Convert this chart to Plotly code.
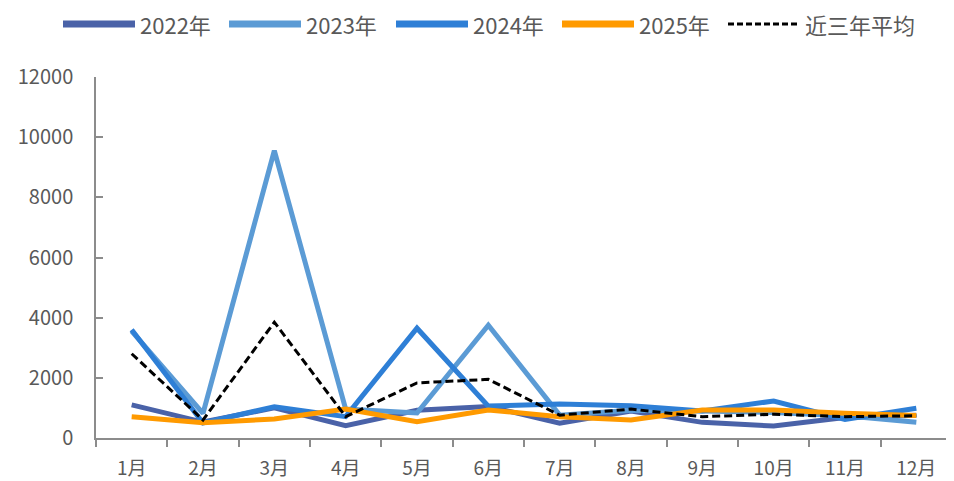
import plotly.graph_objects as go

months = ["1月", "2月", "3月", "4月", "5月", "6月", "7月", "8月", "9月", "10月", "11月", "12月"]
y2022 = [1100, 530, 1000, 410, 920, 1050, 490, 900, 520, 400, 680, 760]
y2023 = [3550, 820, 9550, 960, 830, 3750, 760, 920, 900, 850, 740, 520]
y2024 = [3600, 500, 1040, 710, 3650, 1060, 1130, 1070, 900, 1230, 620, 990]
y2025 = [710, 510, 630, 960, 540, 930, 710, 600, 930, 930, 820, 750]
avg3 = [2800, 600, 3850, 710, 1830, 1950, 760, 960, 710, 790, 710, 740]
yticks = [0, 2000, 4000, 6000, 8000, 10000, 12000]

series_names = ["2022年", "2023年", "2024年", "2025年"]
series_vals = [y2022, y2023, y2024, y2025]
series_colors = ["#4A62A8", "#5B9BD5", "#2E7FD6", "#FF9A00"]
avg_name = "近三年平均"

FONT = "Noto Sans CJK SC, sans-serif"
TXT = "#595959"
AX = "#8C8C8C"

# page has an 8px body margin; figure sized to fit the window exactly
OFF = 8
W, H = 954 - OFF, 481 - OFF
L, R, T, B = 96 - OFF, 2, 77 - OFF, 43
pw, ph = W - L - R, H - T - B

fig = go.Figure()
for name, vals, col in zip(series_names, series_vals, series_colors):
    fig.add_trace(go.Scatter(x=months, y=vals, name=name, mode="lines",
                             line=dict(color=col, width=5), showlegend=False))
fig.add_trace(go.Scatter(x=months, y=avg3, name=avg_name, mode="lines",
                         line=dict(color="black", width=3, dash="8px,4px"),
                         showlegend=False))

# custom legend (long line samples like the original); page pixel positions
def px_x(px):
    return (px - OFF - L) / pw

def px_y(py):
    return (H - B - (py - OFF)) / ph

legend_y = 24
legend_starts = [63, 229, 396, 562, 728]
line_len = 72
names = series_names + [avg_name]
colors = series_colors + ["black"]
shapes = []
annotations = []
for i, (nm, col, x0) in enumerate(zip(names, colors, legend_starts)):
    is_avg = i == len(names) - 1
    shapes.append(dict(type="line", xref="paper", yref="paper",
                       x0=px_x(x0), x1=px_x(x0 + line_len),
                       y0=px_y(legend_y), y1=px_y(legend_y),
                       line=dict(color=col, width=3 if is_avg else 7,
                                 dash="6px,3px" if is_avg else "solid")))
    annotations.append(dict(xref="paper", yref="paper", x=px_x(x0 + line_len + 3),
                            y=px_y(legend_y), xanchor="left", yanchor="middle",
                            text=nm, showarrow=False,
                            font=dict(family=FONT, size=22, color=TXT)))

fig.update_layout(
    width=W, height=H,
    margin=dict(l=L, r=R, t=T, b=B),
    paper_bgcolor="white", plot_bgcolor="white",
    font=dict(family=FONT, size=20, color=TXT),
    showlegend=False,
    shapes=shapes, annotations=annotations,
    xaxis=dict(type="category", range=[-0.5, 11.5], tickson="boundaries",
               showline=True, linecolor=AX, linewidth=1.5,
               ticks="outside", ticklen=7, tickcolor=AX, tickwidth=1.5,
               showgrid=False, automargin=False, ticklabelstandoff=12,
               tickfont=dict(family=FONT, size=19, color=TXT)),
    yaxis=dict(range=[0, 12000], tickvals=yticks, ticktext=[str(v) for v in yticks],
               showline=True, linecolor=AX, linewidth=1.5,
               ticks="inside", ticklen=7, tickcolor=AX, tickwidth=1.5,
               showgrid=False, zeroline=False, automargin=False,
               ticklabelstandoff=17,
               tickfont=dict(family=FONT, size=20, color=TXT)),
)
fig.write_html("out.html")
